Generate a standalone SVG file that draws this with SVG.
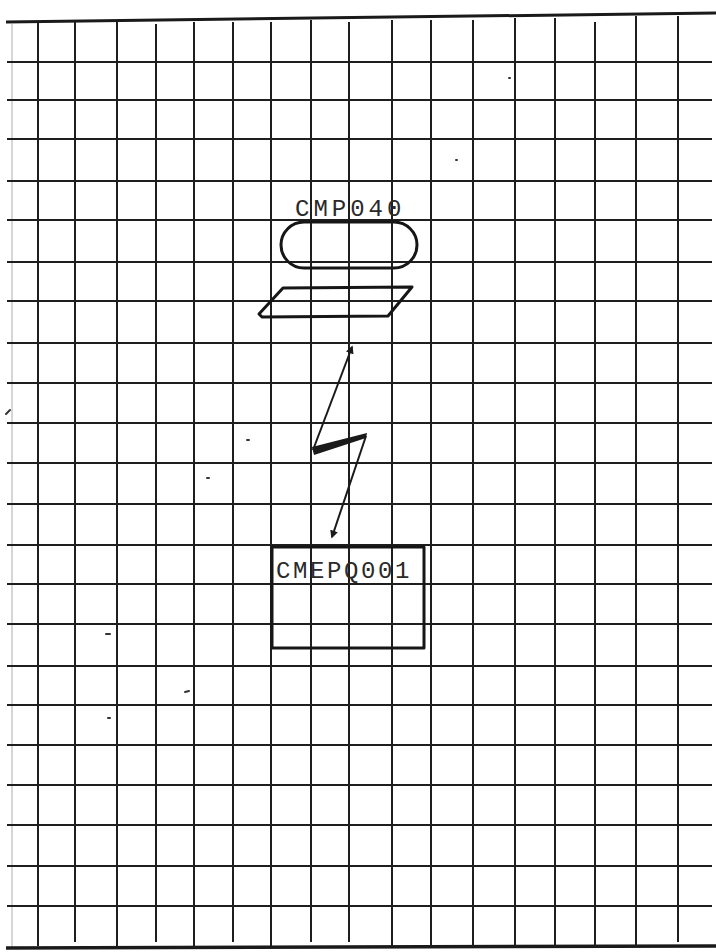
<svg xmlns="http://www.w3.org/2000/svg" width="716" height="952" viewBox="0 0 716 952">
<style>
.g{stroke:#1e1e1e;stroke-width:2;fill:none}
.sh{stroke:#161616;stroke-width:3;fill:none;stroke-linejoin:round}
.t{font-family:"Liberation Mono","DejaVu Sans Mono",monospace;font-size:24px;fill:#2a2a2a;letter-spacing:4px}
.ln{stroke:#1a1a1a;stroke-width:2;fill:none}
.sp{stroke:#333;stroke-width:2;stroke-linecap:round}
</style>
<defs>
<marker id="ah" viewBox="0 0 10 10" refX="8" refY="5" markerWidth="4" markerHeight="4" orient="auto-start-reverse">
<path d="M0,0 L10,5 L0,10 z" fill="#1a1a1a"/>
</marker>
</defs>
<rect width="716" height="952" fill="#ffffff"/>
<g id="grid">
<line x1="12" y1="24" x2="12" y2="948" stroke="#c8c8c8" stroke-width="1.5"/>
<line x1="6" y1="22" x2="716" y2="13" stroke="#1a1a1a" stroke-width="3"/>
<line x1="6" y1="948" x2="716" y2="946" stroke="#1a1a1a" stroke-width="3.5"/>
<g class="g">
<line x1="7" y1="62" x2="712" y2="62"/>
<line x1="7" y1="100" x2="712" y2="100"/>
<line x1="7" y1="139" x2="712" y2="139"/>
<line x1="7" y1="181" x2="712" y2="181"/>
<line x1="7" y1="220" x2="712" y2="220"/>
<line x1="7" y1="262" x2="712" y2="262"/>
<line x1="7" y1="301" x2="712" y2="301"/>
<line x1="7" y1="343" x2="712" y2="343"/>
<line x1="7" y1="383" x2="712" y2="383"/>
<line x1="7" y1="423" x2="712" y2="423"/>
<line x1="7" y1="463" x2="712" y2="463"/>
<line x1="7" y1="504" x2="712" y2="504"/>
<line x1="7" y1="545" x2="712" y2="545"/>
<line x1="7" y1="584" x2="712" y2="584"/>
<line x1="7" y1="624" x2="712" y2="624"/>
<line x1="7" y1="666" x2="712" y2="666"/>
<line x1="7" y1="705" x2="712" y2="705"/>
<line x1="7" y1="745" x2="712" y2="745"/>
<line x1="7" y1="785" x2="712" y2="785"/>
<line x1="7" y1="825" x2="712" y2="825"/>
<line x1="7" y1="866" x2="712" y2="866"/>
<line x1="7" y1="906" x2="712" y2="906"/>
<line x1="38" y1="22" x2="38" y2="946"/>
<line x1="75" y1="22" x2="75" y2="942"/>
<line x1="117" y1="22" x2="117" y2="946"/>
<line x1="156" y1="24" x2="156" y2="942"/>
<line x1="194" y1="22" x2="194" y2="946"/>
<line x1="233" y1="22" x2="233" y2="942"/>
<line x1="271" y1="22" x2="271" y2="946"/>
<line x1="311" y1="20" x2="311" y2="942"/>
<line x1="349" y1="22" x2="349" y2="942"/>
<line x1="392" y1="20" x2="392" y2="946"/>
<line x1="431" y1="20" x2="431" y2="946"/>
<line x1="473" y1="20" x2="473" y2="946"/>
<line x1="515" y1="18" x2="515" y2="946"/>
<line x1="555" y1="18" x2="555" y2="946"/>
<line x1="595" y1="22" x2="595" y2="946"/>
<line x1="636" y1="16" x2="636" y2="946"/>
<line x1="678" y1="16" x2="678" y2="942"/>
</g>
<g class="sp">
<line x1="6" y1="414" x2="10" y2="410"/>
<line x1="106" y1="634" x2="110" y2="634"/>
<line x1="108" y1="718" x2="110" y2="718"/>
<line x1="207" y1="478" x2="209" y2="478"/>
<line x1="247" y1="440" x2="249" y2="440"/>
<line x1="185" y1="692" x2="189" y2="691"/>
<line x1="509" y1="78" x2="510" y2="78"/>
<line x1="456" y1="160" x2="457" y2="160"/>
</g>
</g>
<g id="node-cmp040">
<rect class="sh" x="281" y="222" width="136" height="46" rx="23"/>
<text class="t" x="295" y="216">CMP040</text>
</g>
<g id="node-io">
<path class="sh" d="M283,288 L412,287 L388,316 L262,317 L259,314 Z"/>
</g>
<g id="node-cmepq001">
<rect class="sh" x="272" y="547" width="152" height="101"/>
<text class="t" x="276" y="578" style="letter-spacing:2.6px">CMEPQ001</text>
</g>
<g id="connectors">
<polyline class="ln" points="313,450 352,347" marker-end="url(#ah)"/>
<polygon points="312,447 367,433 366,438 314,455" fill="#1a1a1a"/>
<polyline class="ln" points="366,436 332,537" marker-end="url(#ah)"/>
</g>
</svg>
